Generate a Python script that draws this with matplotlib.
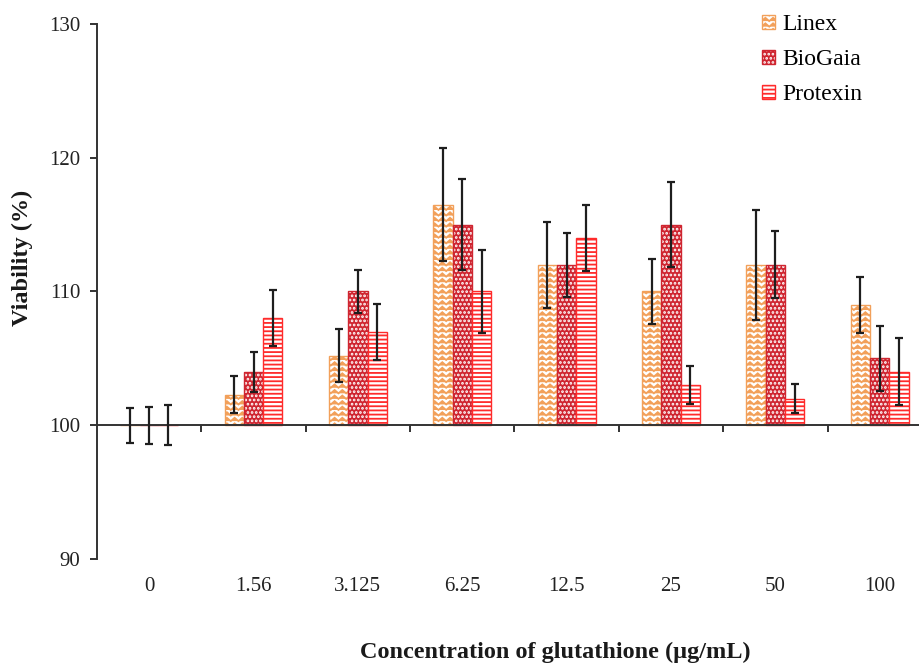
import numpy as np
import matplotlib
matplotlib.use("Agg")
import matplotlib.pyplot as plt
import matplotlib.hatch as mhatch
from matplotlib.path import Path
from matplotlib.patches import Patch
from matplotlib.legend_handler import HandlerTuple

concentrations = ["0", "1.56", "3.125", "6.25", "12.5", "25", "50", "100"]
linex = [100, 102.3, 105.2, 116.5, 112, 110, 112, 109]
linex_err = [1.3, 1.4, 2.0, 4.2, 3.2, 2.4, 4.1, 2.1]
biogaia = [100, 104, 110, 115, 112, 115, 112, 105]
biogaia_err = [1.4, 1.5, 1.6, 3.4, 2.4, 3.2, 2.5, 2.4]
protexin = [100, 108, 107, 110, 114, 103, 102, 104]
protexin_err = [1.5, 2.1, 2.1, 3.1, 2.5, 1.4, 1.1, 2.5]


class ZigzagHatch(mhatch.HatchPatternBase):
    # takes the place of the 'O' hatch: stacked wavy lines like the Excel fill
    def __init__(self, hatch, density):
        self.num_lines = int(hatch.count('O') * density)
        self.n_zig = 13
        self.num_vertices = self.num_lines * (self.n_zig * 2 + 1)

    def set_vertices_and_codes(self, vertices, codes):
        n = self.n_zig * 2 + 1
        steps, step = np.linspace(0.0, 1.0, self.num_lines, False, retstep=True)
        steps += step / 2
        xs = np.linspace(0.0, 1.0, n)
        amp = step * 0.3 * np.where(np.arange(n) % 2 == 0, -1, 1)
        for i, y in enumerate(steps):
            vertices[i * n:(i + 1) * n, 0] = xs
            vertices[i * n:(i + 1) * n, 1] = y + amp
            codes[i * n] = Path.MOVETO
            codes[i * n + 1:(i + 1) * n] = Path.LINETO


mhatch._hatch_types[mhatch._hatch_types.index(mhatch.LargeCircles)] = ZigzagHatch
mhatch.SmallFilledCircles.size = 0.1

plt.rcParams["font.family"] = ["Liberation Serif", "DejaVu Serif"]
plt.rcParams["hatch.linewidth"] = 1.3

orange = "#f2a05a"
dark_red = "#cf2530"
red = "#ff2b2b"

x = np.arange(len(concentrations))
w = 0.185

fig, ax = plt.subplots(figsize=(9.2, 6.64), dpi=100)
fig.subplots_adjust(left=0.1054, right=1.013, bottom=0.158, top=0.964)

lin_h = np.array(linex) - 100
bio_h = np.array(biogaia) - 100
pro_h = np.array(protexin) - 100

ax.bar(x - w, lin_h, w, bottom=100, facecolor="white", edgecolor=orange,
       hatch="OOO", linewidth=1.0, zorder=2)
ax.bar(x, bio_h, w, bottom=100, facecolor=dark_red, edgecolor="white",
       hatch="....", linewidth=0, zorder=2)
ax.bar(x, bio_h, w, bottom=100, fill=False, edgecolor=dark_red,
       linewidth=1.0, zorder=2)
ax.bar(x + w, pro_h, w, bottom=100, facecolor="white", edgecolor=red,
       hatch="----", linewidth=1.0, zorder=2)

err_kw = dict(fmt="none", ecolor="#1e1e1e", elinewidth=1.6, capsize=3,
              capthick=1.6, zorder=4)
ax.errorbar(x - w, linex, yerr=linex_err, **err_kw)
ax.errorbar(x, biogaia, yerr=biogaia_err, **err_kw)
ax.errorbar(x + w, protexin, yerr=protexin_err, **err_kw)

ax.set_xlim(-0.5, len(concentrations) - 0.5)
ax.set_ylim(90, 130)
ax.set_yticks([90, 100, 110, 120, 130])

for s in ["top", "right"]:
    ax.spines[s].set_visible(False)
ax.spines["bottom"].set_position(("data", 100))
for s in ["bottom", "left"]:
    ax.spines[s].set_color("#333333")
    ax.spines[s].set_linewidth(1.4)
    ax.spines[s].set_zorder(3)

ax.set_xticks(x)
ax.set_xticklabels(concentrations)
ax.set_xticks(x[:-1] + 0.5, minor=True)
ax.tick_params(axis="x", which="major", length=0, pad=109, labelsize=15,
               labelcolor="#222222")
ax.tick_params(axis="x", which="minor", length=5, width=1.4, direction="out",
               color="#333333")
ax.tick_params(axis="y", length=5, width=1.4, direction="out", color="#333333",
               labelsize=15, labelcolor="#222222", pad=7)

ax.set_xlabel("Concentration of glutathione (\u00b5g/mL)", fontsize=17.5,
              fontweight="bold", color="#1a1a1a")
ax.xaxis.set_label_coords(0.5485, -0.155)
ax.set_ylabel("Viability (%)", fontsize=17.5, fontweight="bold", color="#1a1a1a")
ax.yaxis.set_label_coords(-0.0766, 0.563)

h_lin = Patch(facecolor="white", edgecolor=orange, hatch="OOO", linewidth=1.0)
h_bio = (Patch(facecolor=dark_red, edgecolor="white", hatch="....", linewidth=0),
         Patch(fill=False, edgecolor=dark_red, linewidth=1.0))
h_pro = Patch(facecolor="white", edgecolor=red, hatch="----", linewidth=1.0)
ax.legend([h_lin, h_bio, h_pro], ["Linex", "BioGaia", "Protexin"],
          handler_map={tuple: HandlerTuple(ndivide=1)},
          loc="upper left", bbox_to_anchor=(762 / 920, 1 - 14 / 664),
          bbox_transform=fig.transFigure, frameon=False, fontsize=17,
          handlelength=0.55, handleheight=0.55, handletextpad=0.3,
          labelspacing=0.6, borderpad=0, borderaxespad=0)

fig.savefig("out.png", dpi=100)
